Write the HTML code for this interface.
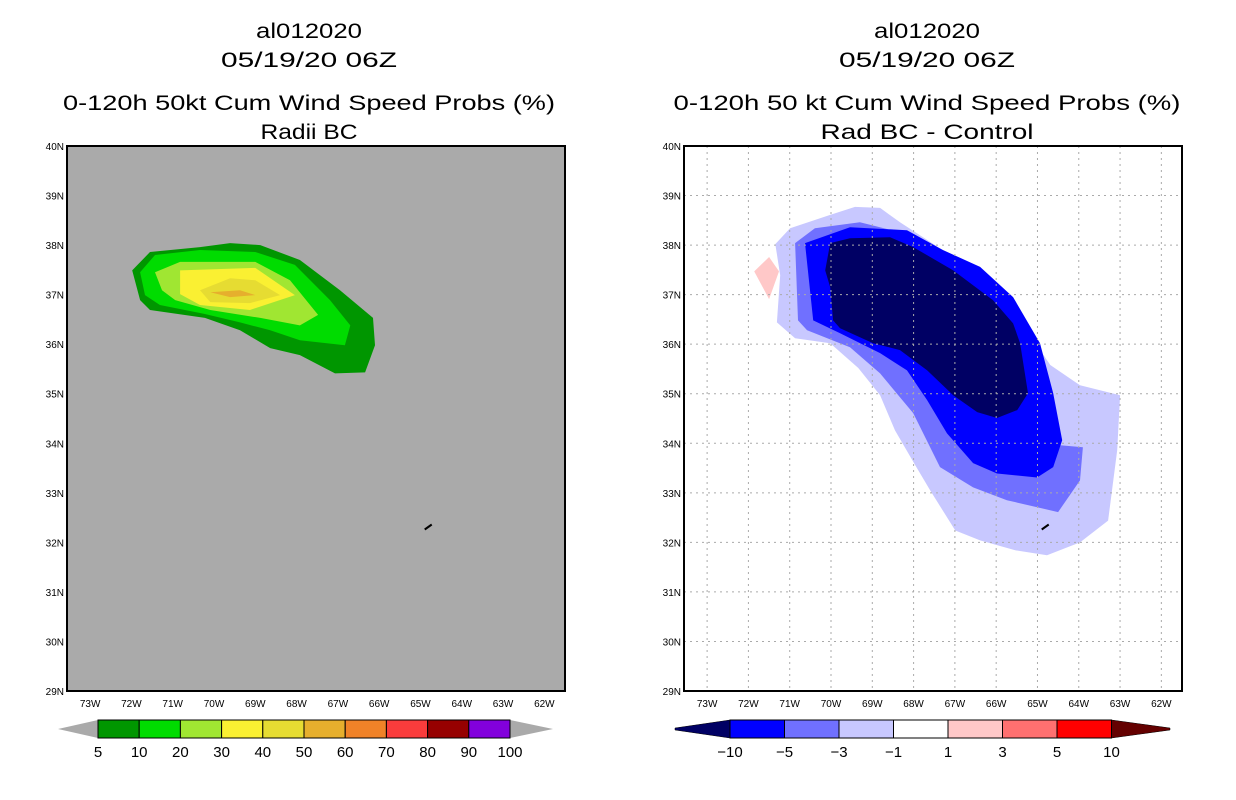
<!DOCTYPE html>
<html><head><meta charset="utf-8"><style>
body{margin:0;background:#fff;width:1236px;height:800px;overflow:hidden}
svg{display:block}
text{font-family:"Liberation Sans",sans-serif}
</style></head><body>
<svg id="s" width="1236" height="800">
<g font-size="21" text-anchor="middle" fill="#000" lengthAdjust="spacingAndGlyphs">
<text x="309" y="38" textLength="106" lengthAdjust="spacingAndGlyphs">al012020</text><text x="309" y="67" textLength="176" lengthAdjust="spacingAndGlyphs">05/19/20 06Z</text>
<text x="309" y="110" textLength="492" lengthAdjust="spacingAndGlyphs">0-120h 50kt Cum Wind Speed Probs (%)</text><text x="309" y="139" textLength="97" lengthAdjust="spacingAndGlyphs">Radii BC</text></g>
<g font-size="21" text-anchor="middle" fill="#000">
<text x="927" y="38" textLength="106" lengthAdjust="spacingAndGlyphs">al012020</text><text x="927" y="67" textLength="176" lengthAdjust="spacingAndGlyphs">05/19/20 06Z</text>
<text x="927" y="110" textLength="507" lengthAdjust="spacingAndGlyphs">0-120h 50 kt Cum Wind Speed Probs (%)</text><text x="927" y="139" textLength="213" lengthAdjust="spacingAndGlyphs">Rad BC - Control</text></g>
</svg>
<script>
// map extents
const lonMin=-73.56, lonMax=-61.5, latMin=29, latMax=40;
const panels=[{x0:67,name:'left'},{x0:684,name:'right'}];
const Y0=146,Y1=691,W=498;
const lonTicks=[-73,-72,-71,-70,-69,-68,-67,-66,-65,-64,-63,-62];
const latTicks=[29,30,31,32,33,34,35,36,37,38,39,40];
// left contours (prob %): [lon,lat]
const p5=[[-71.98,37.49],[-71.55,37.86],[-70.34,37.96],[-69.61,38.04],[-68.88,38.0],[-67.92,37.7],[-66.95,37.09],[-66.15,36.53],[-66.1,35.98],[-66.34,35.43],[-67.07,35.41],[-67.92,35.78],[-68.64,35.92],[-69.37,36.28],[-70.22,36.53],[-71.55,36.69],[-71.79,36.89]];
const p10=[[-71.79,37.45],[-71.43,37.8],[-70.34,37.9],[-69.0,37.86],[-68.04,37.6],[-67.19,36.89],[-66.7,36.38],[-66.83,35.98],[-67.92,36.08],[-68.64,36.28],[-69.37,36.44],[-70.22,36.61],[-71.31,36.79],[-71.67,36.99]];
const p20=[[-71.43,37.45],[-70.82,37.66],[-69.0,37.66],[-68.16,37.29],[-67.48,36.59],[-67.92,36.38],[-68.88,36.53],[-70.09,36.69],[-70.94,36.89],[-71.26,37.09]];
const p30=[[-70.82,37.49],[-69.0,37.54],[-68.04,36.99],[-69.13,36.69],[-70.34,36.79],[-70.82,37.01]];
const p40=[[-70.34,37.09],[-69.61,37.33],[-69.0,37.29],[-68.4,36.99],[-69.13,36.83],[-70.09,36.85]];
const p50=[[-70.09,37.05],[-69.37,37.09],[-69.0,36.99],[-69.61,36.95]];
// right contours (difference)
const d1=[[-71.35,38.02],[-70.99,38.34],[-70.02,38.61],[-69.42,38.77],[-68.81,38.75],[-68.33,38.46],[-67.48,38.0],[-66.87,37.6],[-66.39,37.13],[-65.78,36.59],[-65.18,36.18],[-64.69,35.58],[-63.97,35.17],[-63.0,34.97],[-63.07,33.86],[-63.29,32.44],[-63.97,32.0],[-64.77,31.74],[-65.54,31.84],[-66.39,32.04],[-66.99,32.24],[-67.6,33.05],[-67.96,33.56],[-68.45,34.26],[-68.81,34.97],[-69.34,35.52],[-70.02,36.02],[-70.87,36.12],[-71.31,36.44],[-71.23,37.39]];
const d3=[[-70.87,38.04],[-70.39,38.34],[-69.3,38.46],[-68.33,38.26],[-67.48,37.74],[-66.75,37.19],[-65.91,36.53],[-65.3,35.68],[-64.82,34.87],[-64.45,33.96],[-63.9,33.92],[-63.97,33.25],[-64.5,32.61],[-65.74,32.85],[-66.56,33.11],[-67.36,33.52],[-68.01,34.61],[-68.81,35.41],[-69.54,35.94],[-70.58,36.28],[-70.8,36.48]];
const d5=[[-70.63,38.04],[-69.54,38.36],[-68.16,38.3],[-67.29,37.9],[-66.39,37.56],[-65.59,36.95],[-64.94,36.02],[-64.62,35.01],[-64.4,34.06],[-64.62,33.52],[-65.01,33.31],[-65.98,33.39],[-66.56,33.6],[-67.19,34.2],[-67.67,34.87],[-68.16,35.47],[-68.81,35.82],[-69.78,36.22],[-70.43,36.48]];
const d10=[[-70.02,38.04],[-69.54,38.14],[-68.57,38.16],[-68.01,37.96],[-67.04,37.49],[-66.08,36.89],[-65.59,36.42],[-65.42,36.02],[-65.23,35.01],[-65.49,34.67],[-65.98,34.51],[-66.46,34.63],[-67.04,34.97],[-67.67,35.47],[-68.33,35.88],[-68.98,36.02],[-69.78,36.32],[-69.95,36.48],[-70.02,37.15],[-70.14,37.49]];
const dpos=[[-71.5,37.76],[-71.26,37.47],[-71.5,36.91],[-71.86,37.47]];
const bermuda=[-64.8,32.3];
const probLevels=['5','10','20','30','40','50','60','70','80','90','100'];
const probColors=['#009600','#00dc00','#a0e632','#faf032','#e6dc32','#e6af2d','#f08228','#fa3c3c','#960000','#8200dc'];
const diffLevels=['-10','-5','-3','-1','1','3','5','10'];
const diffColors=['#0000ff','#7070ff','#c8c8ff','#ffffff','#ffc8c8','#ff7070','#ff0000'];

const NS='http://www.w3.org/2000/svg',S=document.getElementById('s');
function mk(t,a,p){const e=document.createElementNS(NS,t);for(const k in a)e.setAttribute(k,a[k]);(p||S).appendChild(e);return e;}
const xs=(x0,lon)=>x0+(lon-lonMin)/(lonMax-lonMin)*W;
const ys=lat=>Y1-(lat-latMin)/(latMax-latMin)*(Y1-Y0);
function poly(x0,pts,fill,g,name){const e=mk('polygon',{points:pts.map(p=>xs(x0,p[0]).toFixed(1)+','+ys(p[1]).toFixed(1)).join(' '),fill:fill},g);

}

panels.forEach((P,i)=>{
 const g=mk('g',{});
 
 
 mk('rect',{x:P.x0,y:Y0,width:W,height:Y1-Y0,fill:i==0?'#aaaaaa':'#ffffff'},g);
 if(i==0){
  [p5,p10,p20,p30,p40,p50].forEach((p,k)=>poly(P.x0,p,probColors[k],g,'prob-contour-'+probLevels[k]));
 } else {
  poly(P.x0,d1,'#c8c8ff',g,'diff-contour-minus1');
  poly(P.x0,d3,'#7070ff',g,'diff-contour-minus3');
  poly(P.x0,d5,'#0000ff',g,'diff-contour-minus5');
  poly(P.x0,d10,'#000064',g,'diff-contour-minus10');
  poly(P.x0,dpos,'#ffc8c8',g,'diff-contour-plus1');
  lonTicks.forEach(l=>mk('line',{x1:xs(P.x0,l),x2:xs(P.x0,l),y1:Y0,y2:Y1,stroke:'#aaa','stroke-dasharray':'2,4'},g));
  latTicks.forEach(l=>mk('line',{x1:P.x0,x2:P.x0+W,y1:ys(l),y2:ys(l),stroke:'#aaa','stroke-dasharray':'2,4'},g));
 }
 const bx=xs(P.x0,bermuda[0]),by=ys(bermuda[1]);
 const b=mk('line',{x1:bx-4,y1:by+2,x2:bx+3,y2:by-3,stroke:'#000','stroke-width':2},g);
 
 
 mk('rect',{x:P.x0,y:Y0,width:W,height:Y1-Y0,fill:'none',stroke:'#000','stroke-width':2},g);
 lonTicks.forEach(l=>{const t=mk('text',{x:xs(P.x0,l),y:Y1+16,'font-size':10,'text-anchor':'middle'},g);t.textContent=(-l)+'W';
  
  });
 latTicks.forEach(l=>{const t=mk('text',{x:P.x0-3,y:ys(l)+4,'font-size':10,'text-anchor':'end'},g);t.textContent=l+'N';
  
  });
});
// left colorbar
(function(){const g=mk('g',{});
 
 
 const x0=98,bw=41.2,y=720,h=18;
 mk('polygon',{points:`${x0},${y} ${x0},${y+h} 58,${y+h/2}`,fill:'#aaaaaa'},g);
 const xe=x0+bw*probColors.length;
 mk('polygon',{points:`${xe},${y} ${xe},${y+h} 553,${y+h/2}`,fill:'#aaaaaa'},g);
 probColors.forEach((c,k)=>mk('rect',{x:x0+k*bw,y:y,width:bw,height:h,fill:c,stroke:'#000','stroke-width':1},g));
 probLevels.forEach((l,k)=>{const t=mk('text',{x:x0+k*bw,y:757,'font-size':15,'text-anchor':'middle'},g);t.textContent=l;
  
  });
})();
// right colorbar
(function(){const g=mk('g',{});
 
 
 const x0=730,bw=54.5,y=720,h=18;
 mk('polygon',{points:`${x0},${y} ${x0},${y+h} 675,${y+h/2+1} 675,${y+h/2-1}`,fill:'#000064',stroke:'#000','stroke-width':0.5},g);
 const xe=x0+bw*diffColors.length;
 mk('polygon',{points:`${xe},${y} ${xe},${y+h} 1170,${y+h/2+1} 1170,${y+h/2-1}`,fill:'#640000',stroke:'#000','stroke-width':0.5},g);
 diffColors.forEach((c,k)=>mk('rect',{x:x0+k*bw,y:y,width:bw,height:h,fill:c,stroke:'#000','stroke-width':1},g));
 diffLevels.forEach((l,k)=>{const t=mk('text',{x:x0+k*bw,y:757,'font-size':15,'text-anchor':'middle'},g);t.textContent=l.replace('-','\u2212');
  
  });
})();
</script>
</body></html>
